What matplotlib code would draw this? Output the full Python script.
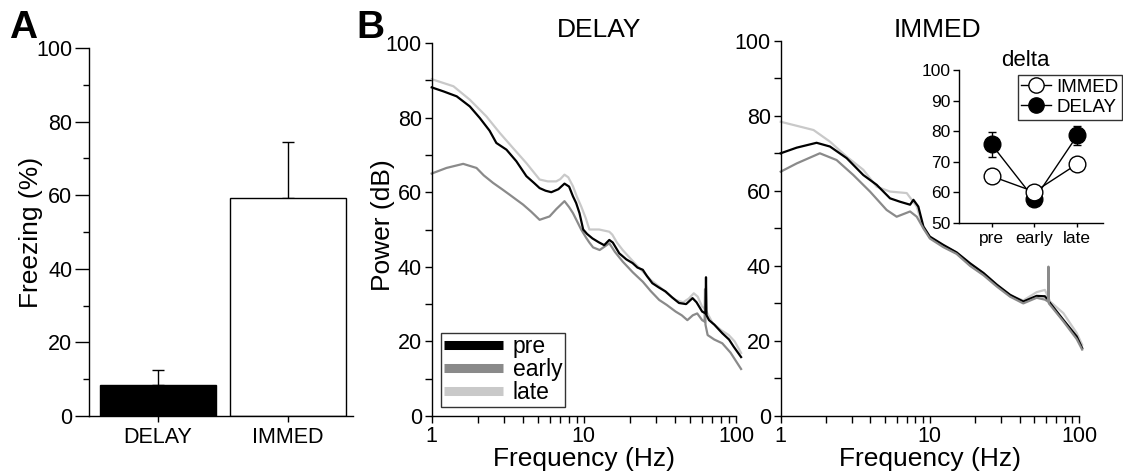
import matplotlib
matplotlib.use("Agg")
import matplotlib.pyplot as plt
from matplotlib.ticker import LogLocator, NullFormatter, FixedLocator, FixedFormatter
from matplotlib.lines import Line2D

plt.rcParams['font.family'] = ['Liberation Sans', 'DejaVu Sans']

# ---------------- data ----------------
groups = ["DELAY", "IMMED"]
freezing = [8.3, 59.3]
freezing_err = [4.2, 15.2]

delay_pre_f = [1.0, 1.2, 1.46, 1.78, 2.07, 2.4, 2.66, 3.1, 3.6, 4.19, 4.7, 5.12, 5.6, 6.11, 6.8, 7.46, 8.0, 8.48, 8.9, 9.36, 9.9, 10.5, 11.4, 12.5, 13.6, 14.7, 15.5, 17.1, 19.0, 20.9, 22.5, 24.4, 26.0, 28.2, 31.0, 34.4, 38.0, 42.2, 47.0, 51.8, 55.0, 59.9, 63.0, 63.5, 64.0, 66.5, 72.0, 81.2, 90.0, 96.5, 108.0]
delay_pre_db = [88.1, 87.0, 85.7, 83.0, 79.9, 76.5, 73.2, 71.4, 68.3, 64.3, 62.5, 61.1, 60.4, 60.0, 60.8, 62.3, 61.5, 58.9, 57.1, 54.4, 50.0, 48.8, 47.6, 46.6, 45.8, 47.2, 46.5, 43.6, 42.0, 41.0, 39.8, 39.2, 37.5, 35.6, 34.5, 33.4, 31.8, 30.3, 30.0, 31.6, 30.5, 28.0, 27.5, 37.2, 27.0, 25.7, 24.5, 22.2, 20.5, 18.6, 15.8]

delay_early_f = [1.0, 1.25, 1.61, 1.97, 2.2, 2.53, 2.9, 3.26, 3.6, 3.98, 4.5, 5.12, 5.95, 6.6, 7.46, 8.0, 8.48, 9.0, 9.6, 10.35, 10.87, 11.5, 12.7, 14.7, 16.0, 18.0, 21.0, 24.4, 27.5, 31.3, 35.0, 40.1, 44.0, 47.9, 52.0, 55.6, 59.9, 62.2, 62.6, 63.0, 65.1, 72.0, 81.2, 92.0, 108.0]
delay_early_db = [65.0, 66.5, 67.6, 66.5, 64.5, 62.5, 60.8, 59.3, 58.0, 56.7, 54.8, 52.6, 53.5, 55.5, 57.6, 56.0, 54.4, 52.3, 50.0, 47.8, 46.5, 45.2, 44.5, 46.3, 44.0, 41.4, 38.5, 36.0, 33.5, 31.1, 29.8, 28.0, 27.0, 25.7, 27.0, 27.5, 25.7, 25.3, 34.0, 24.5, 21.7, 20.5, 19.5, 17.0, 12.6]

delay_late_f = [1.0, 1.39, 1.78, 2.29, 2.8, 3.43, 4.19, 5.12, 5.8, 6.58, 7.0, 7.46, 7.9, 8.48, 9.0, 9.6, 10.3, 10.87, 12.6, 14.7, 15.4, 16.5, 18.0, 21.0, 24.4, 27.5, 31.3, 35.0, 40.1, 45.0, 49.0, 52.8, 56.0, 59.9, 62.5, 64.0, 70.2, 80.0, 89.6, 98.0, 108.0]
delay_late_db = [90.3, 88.4, 84.8, 80.3, 75.9, 71.8, 67.8, 63.4, 62.9, 62.9, 63.5, 64.7, 64.0, 61.6, 58.8, 56.2, 53.0, 50.0, 50.0, 49.4, 48.6, 46.5, 44.5, 41.5, 38.7, 36.5, 34.7, 33.0, 31.1, 30.5, 31.5, 32.9, 32.0, 29.3, 28.8, 28.0, 24.9, 23.0, 21.7, 20.0, 16.9]

immed_pre_f = [1.0, 1.28, 1.74, 2.14, 2.77, 3.58, 4.4, 5.41, 6.3, 7.37, 7.76, 8.37, 9.05, 10.0, 12.3, 15.1, 18.6, 22.9, 28.1, 34.5, 42.3, 52.0, 59.1, 61.5, 64.0, 78.6, 96.5, 105.0]
immed_pre_db = [70.0, 71.5, 72.8, 71.8, 68.7, 64.2, 61.6, 58.0, 57.1, 56.3, 57.6, 55.8, 50.5, 47.8, 45.6, 43.6, 40.7, 38.1, 35.0, 32.3, 30.5, 32.0, 31.9, 31.0, 30.1, 25.6, 21.2, 18.1]

immed_early_f = [1.0, 1.28, 1.83, 2.37, 3.07, 3.97, 5.13, 5.99, 7.37, 8.17, 9.05, 10.0, 12.3, 15.1, 18.6, 22.9, 28.1, 34.5, 42.3, 52.0, 59.1, 62.0, 62.4, 62.8, 64.0, 78.6, 96.5, 105.0]
immed_early_db = [65.1, 67.3, 70.0, 68.2, 64.2, 59.8, 54.9, 53.1, 54.5, 53.1, 50.0, 47.3, 45.0, 43.2, 40.0, 37.5, 34.5, 31.8, 30.0, 31.5, 31.0, 30.5, 39.8, 30.0, 29.6, 25.2, 20.5, 17.7]

immed_late_f = [1.0, 1.66, 2.14, 2.77, 3.58, 4.4, 5.41, 7.0, 8.17, 9.05, 10.0, 12.3, 15.1, 18.6, 22.9, 28.1, 34.5, 42.3, 52.0, 59.1, 64.0, 78.6, 96.5, 105.0]
immed_late_db = [78.4, 76.2, 73.1, 69.1, 65.6, 61.1, 59.8, 59.4, 55.8, 50.0, 47.6, 45.4, 43.6, 40.5, 38.0, 35.0, 32.0, 30.8, 33.0, 33.6, 30.5, 27.4, 22.1, 19.0]

epochs = ["pre", "early", "late"]
delta_immed = [65.3, 60.2, 69.3]
delta_immed_err = [2.2, 1.0, 1.0]
delta_delay = [75.7, 57.8, 78.6]
delta_delay_err = [4.1, 1.0, 3.1]

# ---------------- figure ----------------
W, H = 1123, 474
fig = plt.figure(figsize=(W / 100, H / 100), dpi=100)

def rect(l, r, t, b):
    return [l / W, 1 - b / H, (r - l) / W, (b - t) / H]

def style_axes(ax):
    for s in ("top", "right"):
        ax.spines[s].set_visible(False)
    for s in ("left", "bottom"):
        ax.spines[s].set_linewidth(1.0)

TICK = 15.5
LAB = 19

# ---- Panel A ----
axA = fig.add_axes(rect(89, 353, 48, 416))
style_axes(axA)
xpos = [0, 1]
axA.bar(xpos, freezing, width=0.89, color=["black", "white"], edgecolor="black", linewidth=1.0, zorder=2)
axA.errorbar(xpos, freezing, yerr=[[0, 0], freezing_err], fmt="none", ecolor="black",
             elinewidth=1.0, capsize=4, capthick=1.0, zorder=1)
axA.set_xlim(-0.53, 1.5)
axA.set_ylim(0, 100)
axA.set_xticks(xpos)
axA.set_xticklabels(groups, fontsize=TICK)
axA.set_yticks([0, 20, 40, 60, 80, 100])
axA.set_yticks([10, 30, 50, 70, 90], minor=True)
axA.tick_params(axis="y", which="major", length=10, width=1, labelsize=TICK, pad=2)
axA.tick_params(axis="y", which="minor", length=4, width=1)
axA.tick_params(axis="x", which="major", length=4, width=1, pad=4)
fig.text(31 / W, 1 - 232 / H, "Freezing (%)", rotation=90, ha="center", va="center", fontsize=LAB)

# ---- Panel B spectra ----
def spectra_axes(r, title, title_x):
    ax = fig.add_axes(r)
    style_axes(ax)
    ax.set_xscale("log")
    ax.set_xlim(1, 100)
    ax.set_ylim(0, 100)
    ax.xaxis.set_major_locator(FixedLocator([1, 10, 100]))
    ax.xaxis.set_major_formatter(FixedFormatter(["1", "10", "100"]))
    ax.xaxis.set_minor_locator(LogLocator(base=10, subs=range(2, 10)))
    ax.xaxis.set_minor_formatter(NullFormatter())
    ax.set_yticks([0, 20, 40, 60, 80, 100])
    ax.set_yticks([10, 30, 50, 70, 90], minor=True)
    ax.tick_params(axis="both", which="major", length=5, width=1, labelsize=TICK, pad=2)
    ax.tick_params(axis="both", which="minor", length=5, width=1)
    fig.text(title_x / W, 1 - 30 / H, title, ha="center", va="center", fontsize=LAB)
    return ax

COL_PRE, COL_EARLY, COL_LATE = "black", "#8a8a8a", "#c9c9c9"
LW = 1.6

axB1 = spectra_axes(rect(431.7, 736, 43, 416), "DELAY", 599)
axB1.plot(delay_late_f, delay_late_db, color=COL_LATE, lw=LW, clip_on=False)
axB1.plot(delay_early_f, delay_early_db, color=COL_EARLY, lw=LW, clip_on=False)
axB1.plot(delay_pre_f, delay_pre_db, color=COL_PRE, lw=LW, clip_on=False)
handles = [Line2D([], [], color=c, lw=6.5, solid_capstyle="butt") for c in (COL_PRE, COL_EARLY, COL_LATE)]
leg = axB1.legend(handles, ["pre", "early", "late"], loc="lower left",
                  bbox_to_anchor=((441 - 431.7) / 304.3, (416 - 407) / 373), fontsize=16.5,
                  frameon=True, fancybox=False, edgecolor="black", handlelength=2.6,
                  labelspacing=0.0, borderpad=0.12, handletextpad=0.4, borderaxespad=0)
leg.get_frame().set_linewidth(1.0)
fig.text(383 / W, 1 - 225 / H, "Power (dB)", rotation=90, ha="center", va="center", fontsize=LAB)
fig.text(584 / W, 1 - 459 / H, "Frequency (Hz)", ha="center", va="center", fontsize=LAB)

axB2 = spectra_axes(rect(780.7, 1079, 40.7, 416), "IMMED", 937)
axB2.plot(immed_late_f, immed_late_db, color=COL_LATE, lw=LW, clip_on=False)
axB2.plot(immed_pre_f, immed_pre_db, color=COL_PRE, lw=LW, clip_on=False)
axB2.plot(immed_early_f, immed_early_db, color=COL_EARLY, lw=LW, clip_on=False)
fig.text(930 / W, 1 - 459 / H, "Frequency (Hz)", ha="center", va="center", fontsize=LAB)

# ---- Inset ----
axI = fig.add_axes(rect(959, 1103, 70, 223))
style_axes(axI)
ipos = [0, 1, 2]
axI.errorbar(ipos, delta_delay, yerr=delta_delay_err, fmt="-o", color="black", mfc="black",
             mec="black", ms=12, lw=1.0, elinewidth=1.0, capsize=3, capthick=1.0, zorder=3)
axI.errorbar(ipos, delta_immed, yerr=delta_immed_err, fmt="-o", color="black", mfc="white",
             mec="black", ms=12, mew=1.0, lw=1.0, elinewidth=1.0, capsize=3, capthick=1.0, zorder=4)
axI.set_xlim(-0.76, 2.6)
axI.set_ylim(50, 100)
axI.set_xticks(ipos)
axI.set_xticklabels(epochs, fontsize=12.5)
axI.set_yticks([50, 60, 70, 80, 90, 100])
axI.tick_params(axis="y", length=4, width=1, labelsize=12.5, pad=2)
axI.tick_params(axis="x", length=3, width=1, labelsize=12.5, pad=3)
fig.text(1025 / W, 1 - 60 / H, "delta", ha="center", va="center", fontsize=16)
ih = [Line2D([], [], color="black", lw=1.0, marker="o", ms=11, mfc="white", mec="black"),
      Line2D([], [], color="black", lw=1.0, marker="o", ms=11, mfc="black", mec="black")]
leg2 = fig.legend(ih, ["IMMED", "DELAY"], loc="upper right", bbox_to_anchor=(1122 / W, 1 - 75 / H),
                  fontsize=13.5, frameon=True, fancybox=False, edgecolor="black", handlelength=1.6,
                  labelspacing=0.15, borderpad=0.2, handletextpad=0.25, borderaxespad=0)
leg2.get_frame().set_linewidth(1.0)

# ---- panel letters ----
fig.text(9 / W, 1 - 28 / H, "A", ha="left", va="center", fontsize=28, fontweight="bold")
fig.text(356 / W, 1 - 28 / H, "B", ha="left", va="center", fontsize=28, fontweight="bold")

fig.savefig("out.png", dpi=100)
